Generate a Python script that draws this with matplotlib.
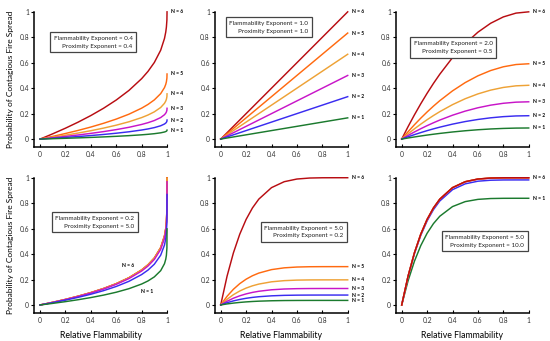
import matplotlib
matplotlib.use('Agg')
import matplotlib.pyplot as plt

plt.rcParams['font.family'] = ['Lato', 'DejaVu Sans']

# x samples
x_steep = [0, 0.05, 0.1, 0.2, 0.3, 0.4, 0.5, 0.6, 0.7, 0.8, 0.85, 0.9, 0.95, 0.98, 0.99, 0.995, 0.999, 1.0]
x_line = [0, 0.5, 1.0]
x_sat = [0, 0.05, 0.1, 0.15, 0.2, 0.25, 0.3, 0.4, 0.5, 0.6, 0.7, 0.8, 0.9, 1.0]

# panel 1: flammability 0.4, proximity 0.4  (N = 1 .. 6)
panel1_y = [
	[0, .0014, .0029, .0060, .0094, .0130, .0170, .0216, .0269, .0334, .0374, .0423, .0491, .0556, .0592, .0619, .0659, .0703],
	[0, .0030, .0062, .0128, .0199, .0277, .0362, .0459, .0572, .0711, .0796, .0901, .1045, .1184, .1260, .1317, .1403, .1497],
	[0, .0049, .0100, .0207, .0322, .0447, .0586, .0743, .0925, .1149, .1287, .1457, .1691, .1915, .2037, .2130, .2268, .2421],
	[0, .0072, .0147, .0304, .0473, .0657, .0861, .1091, .1359, .1688, .1891, .2140, .2483, .2812, .2992, .3129, .3332, .3556],
	[0, .0104, .0211, .0437, .0680, .0945, .1239, .1570, .1955, .2429, .2721, .3079, .3572, .4046, .4305, .4502, .4793, .5116],
	[0, .0203, .0413, .0854, .1330, .1848, .2421, .3069, .3822, .4747, .5318, .6019, .6983, .7909, .8415, .8799, .9369, 1.0],
]

# panel 2: flammability 1.0, proximity 1.0
panel2_y = [
	[0, .0833, .1667],
	[0, .1667, .3333],
	[0, .25, .5],
	[0, .3333, .6667],
	[0, .4167, .8333],
	[0, .5, 1.0],
]

# panel 3: flammability 2.0, proximity 0.5
panel3_y = [
	[0, .0085, .0165, .0242, .0314, .0381, .0444, .0557, .0653, .0732, .0793, .0836, .0862, .0871],
	[0, .0179, .0349, .0509, .0661, .0803, .0936, .1174, .1376, .1541, .1670, .1762, .1817, .1835],
	[0, .0286, .0557, .0813, .1054, .1281, .1494, .1875, .2197, .2460, .2665, .2812, .2900, .2929],
	[0, .0412, .0803, .1173, .1521, .1849, .2155, .2705, .3170, .3550, .3846, .4057, .4184, .4226],
	[0, .0577, .1124, .1642, .2130, .2589, .3018, .3788, .4439, .4971, .5385, .5681, .5859, .5918],
	[0, .0975, .19, .2775, .36, .4375, .51, .64, .75, .84, .91, .96, .99, 1.0],
]

# panel 4: flammability 0.2, proximity 5.0
panel4_y = [
	[0, .0061, .0125, .0261, .0412, .0581, .0774, .1001, .1280, .1646, .1888, .2207, .2696, .3246, .3600, .3908, .4479, .5981],
	[0, .0089, .0181, .0379, .0598, .0843, .1124, .1454, .1858, .2390, .2741, .3204, .3913, .4712, .5226, .5674, .6502, .8683],
	[0, .0099, .0202, .0422, .0668, .0941, .1254, .1622, .2073, .2666, .3058, .3575, .4366, .5258, .5831, .6330, .7254, .9688],
	[0, .0102, .0208, .0434, .0686, .0967, .1289, .1667, .2131, .2741, .3144, .3675, .4489, .5405, .5994, .6507, .7457, .9959],
	[0, .0102, .0209, .0436, .0689, .0971, .1294, .1674, .2140, .2752, .3157, .3690, .4507, .5427, .6018, .6533, .7487, .9999],
	[0, .0102, .0209, .0436, .0689, .0971, .1294, .1674, .2140, .2752, .3157, .3690, .4507, .5427, .6019, .6534, .7488, 1.0],
]

# panel 5: flammability 5.0, proximity 0.2
panel5_y = [
	[0, .0081, .0147, .0199, .0241, .0273, .0298, .0330, .0347, .0354, .0357, .0358, .0358, .0358],
	[0, .0176, .0319, .0433, .0524, .0594, .0648, .0718, .0755, .0771, .0777, .0779, .0779, .0779],
	[0, .0293, .0530, .0720, .0870, .0987, .1076, .1193, .1254, .1281, .1291, .1294, .1294, .1294],
	[0, .0446, .0808, .1098, .1326, .1505, .1641, .1820, .1911, .1953, .1968, .1972, .1973, .1973],
	[0, .0681, .1233, .1676, .2025, .2297, .2506, .2778, .2918, .2981, .3005, .3011, .3012, .3012],
	[0, .2262, .4095, .5563, .6723, .7627, .8319, .9222, .9688, .9898, .9976, .9997, 1.0, 1.0],
]

# panel 6: flammability 5.0, proximity 10.0
panel6_y = [
	[0, .1897, .3434, .4665, .5637, .6395, .6975, .7733, .8123, .8299, .8365, .8382, .8385, .8385],
	[0, .2223, .4024, .5467, .6607, .7495, .8175, .9062, .9520, .9727, .9803, .9824, .9827, .9827],
	[0, .2260, .4091, .5557, .6716, .7619, .8311, .9213, .9678, .9888, .9966, .9987, .9990, .9990],
	[0, .2262, .4095, .5563, .6723, .7627, .8319, .9222, .9688, .9898, .9976, .9997, 1.0, 1.0],
	[0, .2262, .4095, .5563, .6723, .7627, .8319, .9222, .9688, .9898, .9976, .9997, 1.0, 1.0],
	[0, .2262, .4095, .5563, .6723, .7627, .8319, .9222, .9688, .9898, .9976, .9997, 1.0, 1.0],
]

box_texts = [
	"Flammability Exponent = 0.4\nProximity Exponent = 0.4",
	"Flammability Exponent = 1.0\nProximity Exponent = 1.0",
	"Flammability Exponent = 2.0\nProximity Exponent = 0.5",
	"Flammability Exponent = 0.2\nProximity Exponent = 5.0",
	"Flammability Exponent = 5.0\nProximity Exponent = 0.2",
	"Flammability Exponent = 5.0\nProximity Exponent = 10.0",
]
tick_vals = [0, 0.2, 0.4, 0.6, 0.8, 1]
tick_labels = ["0", "0.2", "0.4", "0.6", "0.8", "1"]

colors = ['#1b7a2e', '#3a2cf0', '#c815c8', '#eea236', '#ff6a10', '#b80d12']

panels = [
	(x_steep, panel1_y), (x_line, panel2_y), (x_sat, panel3_y),
	(x_steep, panel4_y), (x_sat, panel5_y), (x_sat, panel6_y),
]
# where the box text (right edge, middle) sits, in data coords
box_pos = [(0.73, 0.76), (0.69, 0.878), (0.716, 0.72), (0.743, 0.65), (0.965, 0.572), (0.965, 0.50)]

fig = plt.figure(figsize=(5.5, 3.41), dpi=100)
lefts = [0.0624, 0.3909, 0.72]
bottoms = [0.5698, 0.0833]
w, h = 0.2413, 0.3955

for i, (xs, ys) in enumerate(panels):
	row, col = divmod(i, 3)
	ax = fig.add_axes([lefts[col], bottoms[row], w, h])
	order = range(6) if i == 5 else range(5, -1, -1)
	for z, n in enumerate(order):
		ax.plot(xs, ys[n], color=colors[n], lw=1.05, clip_on=False, zorder=2 + z)

	# N labels
	if i == 3:
		ax.text(0.69, 0.31, "N = 6", fontsize=3.6, fontweight='bold', ha='center', va='center')
		ax.text(0.84, 0.105, "N = 1", fontsize=3.6, fontweight='bold', ha='center', va='center')
	elif i == 5:
		for n in (0, 5):
			ax.text(1.03, ys[n][-1], f"N = {n + 1}", fontsize=3.6, fontweight='bold', ha='left', va='center', clip_on=False)
	else:
		for n in range(6):
			ax.text(1.03, ys[n][-1], f"N = {n + 1}", fontsize=3.6, fontweight='bold', ha='left', va='center', clip_on=False)

	bx, by = box_pos[i]
	ax.text(bx, by, box_texts[i], fontsize=4.5, ha='right', va='center', multialignment='right',
		linespacing=1.65, color='#222222',
		bbox=dict(boxstyle='square,pad=0.6', fc='white', ec='#444444', lw=0.9), zorder=10)

	ax.set_xlim(-0.045, 1)
	ax.set_ylim(-0.06, 1)
	ax.spines['top'].set_visible(False)
	ax.spines['right'].set_visible(False)
	ax.spines['left'].set_linewidth(1.1)
	ax.spines['bottom'].set_linewidth(1.1)
	ax.set_xticks(tick_vals)
	ax.set_xticklabels(tick_labels)
	ax.set_yticks(tick_vals)
	ax.set_yticklabels(tick_labels)
	ax.tick_params(axis='x', direction='in', length=2.2, width=0.8, pad=3, labelsize=4.9, labelcolor='#333333')
	ax.tick_params(axis='y', direction='out', length=2.2, width=0.8, pad=1.5, labelsize=4.9, labelcolor='#333333')

	if col == 0:
		ax.set_ylabel("Probability of Contagious Fire Spread", fontsize=6, labelpad=4)
	if row == 1:
		ax.set_xlabel("Relative Flammability", fontsize=6.3, labelpad=5)

fig.savefig("out.png", dpi=100)
